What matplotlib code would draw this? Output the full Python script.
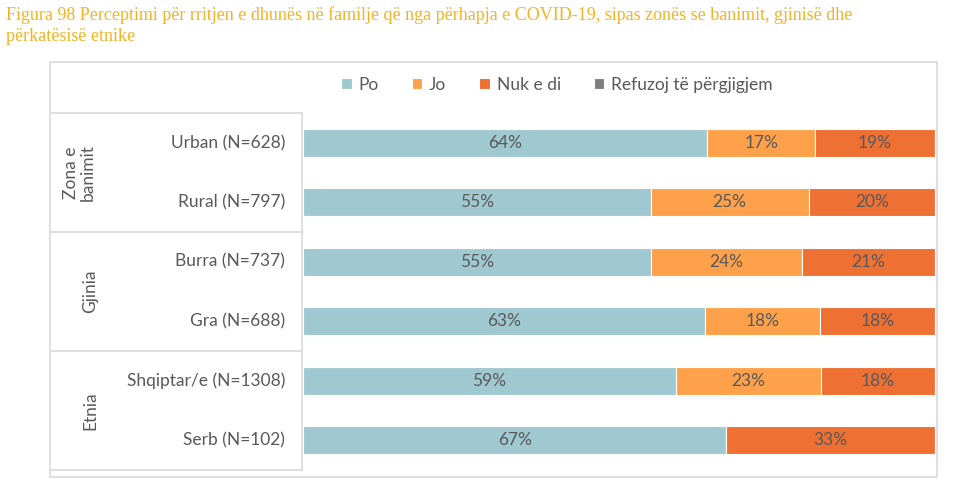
import matplotlib.pyplot as plt
from matplotlib.lines import Line2D
from matplotlib.patches import Rectangle
import matplotlib.transforms as mtransforms

# =========================
# Datos
# =========================
categorias = ["Urban (N=628)", "Rural (N=797)", "Burra (N=737)", "Gra (N=688)",
              "Shqiptar/e (N=1308)", "Serb (N=102)"]
grupos = ["Zona e\nbanimit", "Gjinia", "Etnia"]
po = [64, 55, 55, 63, 59, 67]
jo = [17, 25, 24, 18, 23, 0]
nuk_e_di = [19, 20, 21, 18, 18, 33]
refuzoj = [0, 0, 0, 0, 0, 0]

series = ["Po", "Jo", "Nuk e di", "Refuzoj të përgjigjem"]
valores = [po, jo, nuk_e_di, refuzoj]
colores = ["#9FC8D1", "#FFA14A", "#EE7033", "#7F7F7F"]

titulo = ("Figura 98 Perceptimi për rritjen e dhunës në familje që nga përhapja e COVID-19, "
          "sipas zonës se banimit, gjinisë dhe\npërkatësisë etnike")

plt.rcParams['font.family'] = ['Lato', 'DejaVu Sans']

W, H = 980, 487
fig = plt.figure(figsize=(W / 100, H / 100), dpi=100)

def fx(px):
    return px / W

def fy(py):
    return 1 - py / H

# barras al 100%: cada fila se escala a su total
totales = [sum(f) for f in zip(*valores)]

# =========================
# Ejes de barras
# =========================
ax = fig.add_axes([fx(303), fy(469.7), fx(935) - fx(303), (469.7 - 113.3) / H])
ys = list(range(len(categorias)))
izq = [0] * len(categorias)
for nombre, vals, color in zip(series, valores, colores):
    anchos = [100 * v / t for v, t in zip(vals, totales)]
    barras = ax.barh(ys, anchos, left=izq, height=0.47, color=color,
                     edgecolor="white", linewidth=0.8, label=nombre)
    for b, v in zip(barras, vals):
        if v > 0:
            ax.text(b.get_x() + b.get_width() / 2, b.get_y() + b.get_height() / 2,
                    f"{v}%", ha="center", va="center", fontsize=12.5, color="#595959")
    izq = [a + b for a, b in zip(izq, anchos)]

ax.set_xlim(0, 100)
ax.set_ylim(5.5, -0.5)
ax.axis("off")

# =========================
# Tabla de categorías
# =========================
gris = "#D9D9D9"
fig.add_artist(Rectangle((fx(50), fy(477)), fx(937) - fx(50), (477 - 62) / H,
                         fill=False, edgecolor=gris, linewidth=1.2))

trans = mtransforms.blended_transform_factory(fig.transFigure, ax.transData)
for yl in [-0.5, 1.5, 3.5, 5.5]:
    fig.add_artist(Line2D([fx(51), fx(302)], [yl, yl], transform=trans,
                          color=gris, linewidth=1.2))
fig.add_artist(Line2D([fx(302), fx(302)], [-0.5, 5.5], transform=trans,
                      color=gris, linewidth=1.2))

for y, cat in zip(ys, categorias):
    fig.text(fx(285), 0, cat, transform=trans, ha="right", va="center",
             fontsize=12.5, color="#595959").set_y(y)

for i, g in enumerate(grupos):
    x = fx(79) if "\n" in g else fx(90)
    t = fig.text(x, 0, g, transform=trans, ha="center", va="center",
                 rotation=90, fontsize=12.5, color="#595959", linespacing=1.05)
    t.set_y(2 * i + 0.5)

# =========================
# Leyenda y título
# =========================
fig.legend(loc="center", bbox_to_anchor=(fx(557), fy(85)), ncol=4, frameon=False,
           fontsize=12.5, handlelength=0.6, handleheight=0.6, handletextpad=0.4,
           columnspacing=1.9, labelcolor="#595959")

fig.text(fx(6), fy(6), titulo, ha="left", va="top", fontsize=13,
         family=["Liberation Serif", "DejaVu Serif"], color="#F4B324", linespacing=1.3)

fig.savefig("out.png", dpi=100)
